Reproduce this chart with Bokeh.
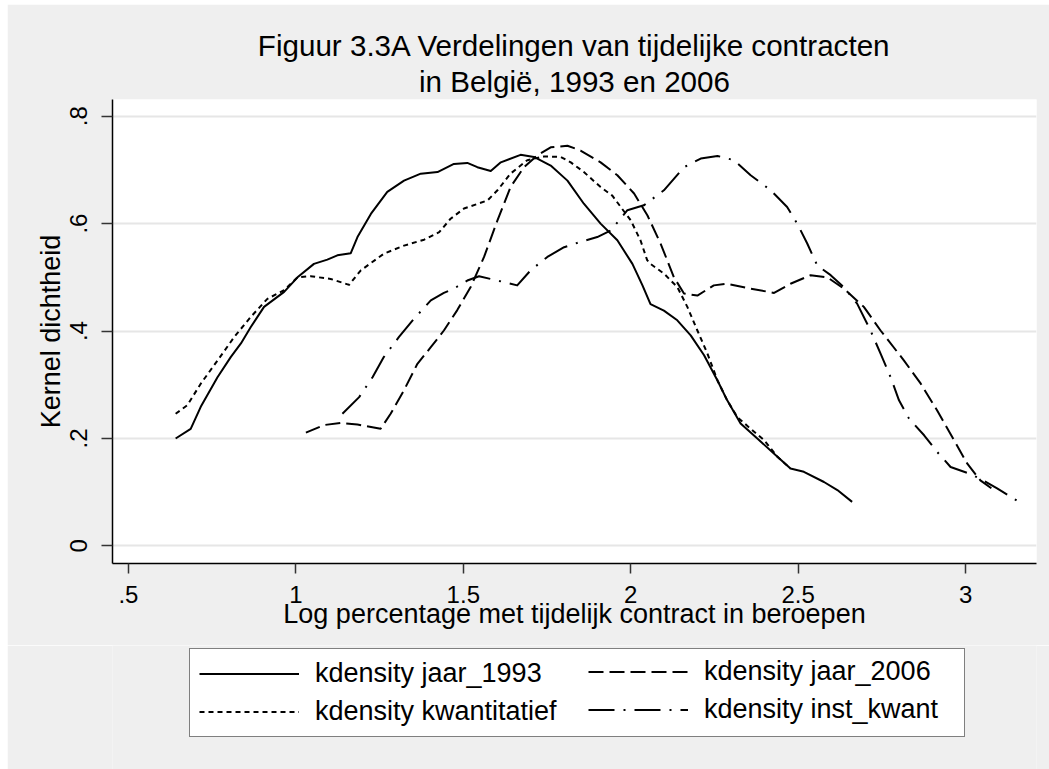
from bokeh.plotting import figure
from bokeh.models import Range1d, FixedTicker, Legend, LegendItem, Title
from bokeh.layouts import column
from bokeh.embed import file_html
from bokeh.resources import INLINE

# ---- data ----
x_1993 = [0.641, 0.686, 0.716, 0.766, 0.806, 0.836, 0.865, 0.905, 0.965, 1.005, 1.054, 1.094,
          1.124, 1.164, 1.184, 1.224, 1.273, 1.323, 1.373, 1.423, 1.472, 1.512, 1.542, 1.582,
          1.612, 1.671, 1.711, 1.761, 1.811, 1.860, 1.910, 1.960, 2.005, 2.035, 2.059, 2.099,
          2.139, 2.179, 2.219, 2.259, 2.288, 2.328, 2.378, 2.438, 2.477, 2.517, 2.577, 2.617, 2.661]
y_1993 = [0.200, 0.218, 0.259, 0.314, 0.352, 0.377, 0.407, 0.445, 0.473, 0.500, 0.525, 0.533,
          0.541, 0.545, 0.575, 0.618, 0.659, 0.680, 0.693, 0.696, 0.711, 0.713, 0.705, 0.698,
          0.714, 0.728, 0.724, 0.708, 0.680, 0.637, 0.600, 0.569, 0.525, 0.485, 0.450, 0.438,
          0.420, 0.392, 0.355, 0.308, 0.271, 0.228, 0.200, 0.166, 0.144, 0.138, 0.119, 0.104, 0.082]

x_kwant = [0.641, 0.676, 0.716, 0.766, 0.816, 0.865, 0.915, 0.965, 1.005, 1.044, 1.104, 1.159,
           1.194, 1.263, 1.323, 1.383, 1.428, 1.462, 1.502, 1.572, 1.602, 1.641, 1.691, 1.741,
           1.791, 1.821, 1.860, 1.910, 1.945, 1.970, 2.000, 2.029, 2.049, 2.059, 2.099, 2.139,
           2.169, 2.199, 2.229, 2.259, 2.288, 2.318, 2.358, 2.398, 2.438, 2.477]
y_kwant = [0.246, 0.262, 0.302, 0.345, 0.389, 0.426, 0.460, 0.476, 0.500, 0.502, 0.497, 0.486,
           0.513, 0.544, 0.559, 0.570, 0.584, 0.609, 0.628, 0.643, 0.662, 0.693, 0.718, 0.725,
           0.724, 0.714, 0.696, 0.668, 0.652, 0.631, 0.606, 0.569, 0.532, 0.525, 0.507, 0.482,
           0.445, 0.401, 0.358, 0.308, 0.271, 0.240, 0.218, 0.197, 0.166, 0.144]

x_2006 = [1.030, 1.084, 1.134, 1.184, 1.253, 1.283, 1.323, 1.363, 1.403, 1.442, 1.482, 1.522,
          1.562, 1.602, 1.641, 1.681, 1.721, 1.761, 1.811, 1.850, 1.910, 1.960, 2.010, 2.050,
          2.089, 2.129, 2.159, 2.199, 2.248, 2.288, 2.358, 2.428, 2.477, 2.537, 2.587, 2.636,
          2.696, 2.746, 2.816, 2.866, 2.915, 2.965, 3.005, 3.044, 3.084]
y_2006 = [0.211, 0.225, 0.229, 0.226, 0.218, 0.246, 0.290, 0.339, 0.370, 0.401, 0.439, 0.482,
          0.538, 0.606, 0.668, 0.705, 0.727, 0.742, 0.745, 0.736, 0.714, 0.690, 0.656, 0.615,
          0.563, 0.500, 0.470, 0.466, 0.485, 0.488, 0.479, 0.471, 0.488, 0.504, 0.500, 0.479,
          0.445, 0.401, 0.345, 0.302, 0.252, 0.197, 0.153, 0.122, 0.104]

x_inst = [1.139, 1.189, 1.229, 1.263, 1.308, 1.353, 1.403, 1.442, 1.472, 1.512, 1.547, 1.602,
          1.661, 1.701, 1.751, 1.801, 1.850, 1.900, 1.940, 1.990, 2.039, 2.099, 2.159, 2.209,
          2.259, 2.308, 2.358, 2.418, 2.467, 2.497, 2.527, 2.557, 2.597, 2.636, 2.676, 2.716,
          2.746, 2.776, 2.801, 2.831, 2.876, 2.915, 2.955, 3.005, 3.044, 3.094, 3.159]
y_inst = [0.246, 0.277, 0.314, 0.352, 0.389, 0.423, 0.457, 0.471, 0.479, 0.494, 0.502, 0.494,
          0.485, 0.513, 0.538, 0.556, 0.566, 0.575, 0.587, 0.625, 0.634, 0.662, 0.705, 0.721,
          0.726, 0.718, 0.690, 0.662, 0.631, 0.600, 0.563, 0.522, 0.504, 0.482, 0.451, 0.401,
          0.358, 0.314, 0.271, 0.237, 0.206, 0.175, 0.147, 0.136, 0.125, 0.107, 0.082]

x_ticks = [0.5, 1, 1.5, 2, 2.5, 3]
x_tick_labels = [".5", "1", "1.5", "2", "2.5", "3"]
y_ticks = [0, 0.2, 0.4, 0.6, 0.8]
y_tick_labels = ["0", ".2", ".4", ".6", ".8"]

series_labels = ["kdensity jaar_1993", "kdensity jaar_2006",
                 "kdensity kwantitatief", "kdensity inst_kwant"]
title_line1 = "Figuur 3.3A Verdelingen van tijdelijke contracten"
title_line2 = "in België, 1993 en 2006"
x_label = "Log percentage met tijdelijk contract in beroepen"
y_label = "Kernel dichtheid"

FONT = "Liberation Sans"
BG = "#efefef"

# ---------------- main plot ----------------
p = figure(width=1042, height=641, output_backend="svg", toolbar_location=None,
           x_range=Range1d(0.4525, 3.2116), y_range=Range1d(-0.0327, 0.831),
           min_border_left=105, min_border_right=13, min_border_top=95, min_border_bottom=82)
p.margin = (4, 0, 0, 7)
p.background_fill_color = "white"
p.border_fill_color = BG
p.outline_line_color = None

title_style = dict(align="center", text_font=FONT, text_font_size="29.6px",
                   text_font_style="normal", text_color="black")
p.title.text = title_line1           # outer line
for k, v in title_style.items():
    setattr(p.title, k, v)
p.title.standoff = 0
p.add_layout(Title(text=title_line2, standoff=3, **title_style), "above")  # next to frame

for ax in (p.xaxis[0], p.yaxis[0]):
    ax.axis_line_color = "black"
    ax.axis_line_width = 1.5
    ax.major_tick_line_color = "#333333"
    ax.major_tick_line_width = 1.5
    ax.major_tick_in = 0
    ax.minor_tick_line_color = None
    ax.major_label_text_font = FONT
    ax.major_label_text_font_size = "24px"
    ax.major_label_text_color = "black"
    ax.axis_label_text_font = FONT
    ax.axis_label_text_font_size = "27px"
    ax.axis_label_text_font_style = "normal"
    ax.axis_label_text_color = "black"

p.xaxis.ticker = FixedTicker(ticks=x_ticks)
p.xaxis.major_label_overrides = dict(zip(x_ticks, x_tick_labels))
p.xaxis.major_tick_out = 10
p.xaxis.major_label_standoff = 12
p.xaxis.axis_label = x_label
p.xaxis.axis_label_standoff = -7

p.yaxis.ticker = FixedTicker(ticks=y_ticks)
p.yaxis.major_label_overrides = dict(zip(y_ticks, y_tick_labels))
p.yaxis.major_tick_out = 11
p.yaxis.major_label_orientation = "vertical"
p.yaxis.major_label_standoff = 14
p.yaxis.axis_label = y_label
p.yaxis.axis_label_standoff = 2

p.xgrid.visible = False
p.ygrid.grid_line_color = "#e6e6e6"
p.ygrid.grid_line_width = 2

styles = [dict(), dict(line_dash="15 6"), dict(line_dash="5 4"), dict(line_dash="26 9 2 9")]
common = dict(line_color="black", line_width=2, line_join="round")
xs = [x_1993, x_2006, x_kwant, x_inst]
ys = [y_1993, y_2006, y_kwant, y_inst]
for xv, yv, st in zip(xs, ys, styles):
    p.line(xv, yv, **common, **st)

# ---------------- legend strip (frame aligned with the main plot) ----------------
q = figure(width=1042, height=124, output_backend="svg", toolbar_location=None,
           x_range=Range1d(-3, -2), y_range=Range1d(-3, -2),
           x_axis_type=None, y_axis_type=None,
           min_border_left=105, min_border_right=13, min_border_top=0, min_border_bottom=0)
q.margin = (0, 0, 0, 7)
q.background_fill_color = BG
q.border_fill_color = BG
q.outline_line_color = None
q.grid.visible = False

# legend keys: same series, drawn outside this strip's visible ranges
keys = [q.line(xv, yv, **common, **st) for xv, yv, st in zip(xs, ys, styles)]

leg_style = dict(glyph_width=100, glyph_height=31, label_height=31, label_standoff=16,
                 padding=9, spacing=7, margin=0, label_text_font=FONT,
                 label_text_font_size="27px", label_text_color="black")
legA = Legend(items=[LegendItem(label=series_labels[0], renderers=[keys[0]]),
                     LegendItem(label=series_labels[2], renderers=[keys[2]])],
              location=(77, 32), label_width=640,
              border_line_color="black", border_line_width=1.2,
              background_fill_color="white", background_fill_alpha=1.0, **leg_style)
legB = Legend(items=[LegendItem(label=series_labels[1], renderers=[keys[1]]),
                     LegendItem(label=series_labels[3], renderers=[keys[3]])],
              location=(476, 44), label_width=20,
              border_line_color=None, background_fill_alpha=0.0, **leg_style)
q.add_layout(legA)
q.add_layout(legB)

layout = column(p, q, spacing=0)
open("out.html", "w").write(file_html(layout, INLINE))
